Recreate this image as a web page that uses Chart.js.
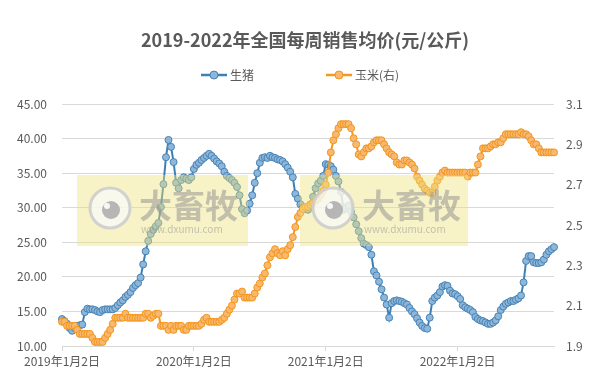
<!DOCTYPE html>
<html>
<head>
<meta charset="utf-8">
<script src="https://cdn.jsdelivr.net/npm/chart.js@4.4.1/dist/chart.umd.min.js"></script>
<style>
  body { margin: 0; background: #fff; }
  #wrap { width: 601px; height: 391px; position: relative; }
</style>
</head>
<body>
<div id="wrap"><canvas id="priceChart"></canvas></div>
<script>
// weekly prices, first week 2019-01-02
const pigPrice = [
  13.9, 13.6, 13.2, 12.6, 12.2, 12.6, 12.9, 13.0, 13.1, 14.9,
  15.4, 15.3, 15.3, 15.2, 15.0, 14.9, 15.2, 15.3, 15.3, 15.3,
  15.3, 15.5, 15.9, 16.3, 16.6, 17.1, 17.4, 17.8, 18.4, 18.8,
  19.1, 19.9, 21.8, 23.7, 25.2, 26.2, 26.8, 27.3, 27.8, 30.1,
  33.4, 37.3, 39.8, 38.8, 36.6, 33.6, 32.8, 34.0, 34.4, 34.2,
  34.0, 34.4, 35.6, 36.2, 36.5, 36.9, 37.2, 37.5, 37.8, 37.5,
  37.1, 36.7, 36.4, 36.0, 35.2, 34.6, 34.3, 34.0, 33.6, 33.0,
  31.8, 29.8, 29.2, 29.6, 30.6, 31.8, 33.6, 35.0, 36.5, 37.2,
  37.3, 37.2, 37.5, 37.3, 37.2, 37.0, 36.9, 36.7, 36.3, 35.8,
  35.2, 34.4, 32.0, 31.3, 30.5, 30.0, 29.8, 29.7, 30.5, 31.6,
  32.8, 33.5, 33.9, 34.6, 36.3, 36.2, 36.0, 35.5, 34.6, 33.8,
  32.3, 29.7, 30.0, 30.3, 29.4, 28.6, 27.6, 26.6, 25.6, 24.8,
  24.6, 24.3, 23.2, 20.8, 20.2, 19.3, 18.2, 17.0, 16.0, 14.1,
  16.2, 16.5, 16.6, 16.5, 16.4, 16.2, 16.0, 15.5, 15.0, 14.6,
  14.0, 13.4, 12.9, 12.6, 12.5, 14.1, 16.5, 17.0, 17.3, 17.8,
  18.6, 18.8, 18.7, 18.0, 17.6, 17.5, 17.2, 16.8, 15.9, 15.6,
  15.4, 15.2, 14.9, 14.2, 13.9, 13.7, 13.6, 13.4, 13.2, 13.2,
  13.4, 13.7, 14.3, 15.2, 15.7, 16.1, 16.3, 16.5, 16.5, 16.7,
  16.9, 17.3, 19.2, 22.3, 23.0, 23.0, 22.1, 22.0, 22.0, 22.1,
  22.5, 23.2, 23.7, 24.0, 24.3
];

const cornPrice = [
  2.02, 2.02, 2.00, 2.00, 2.00, 2.00, 1.98, 1.96, 1.96, 1.96,
  1.96, 1.96, 1.94, 1.92, 1.92, 1.92, 1.92, 1.94, 1.96, 1.98,
  2.01, 2.04, 2.04, 2.04, 2.04, 2.06, 2.04, 2.04, 2.04, 2.04,
  2.04, 2.04, 2.04, 2.06, 2.06, 2.04, 2.05, 2.06, 2.06, 2.00,
  2.00, 2.00, 1.98, 2.00, 1.98, 2.00, 2.00, 2.00, 1.98, 1.98,
  2.00, 2.00, 2.00, 2.00, 2.00, 2.01, 2.03, 2.04, 2.02, 2.02,
  2.02, 2.02, 2.02, 2.03, 2.04, 2.06, 2.08, 2.10, 2.13, 2.16,
  2.16, 2.17, 2.14, 2.14, 2.14, 2.14, 2.16, 2.19, 2.21, 2.24,
  2.26, 2.30, 2.34, 2.36, 2.38, 2.36, 2.35, 2.37, 2.35, 2.38,
  2.40, 2.44, 2.49, 2.54, 2.56, 2.58, 2.59, 2.59, 2.60, 2.61,
  2.62, 2.63, 2.65, 2.67, 2.70, 2.76, 2.86, 2.92, 2.95, 2.98,
  3.00, 3.00, 3.00, 3.00, 2.98, 2.93, 2.90, 2.85, 2.84, 2.86,
  2.88, 2.88, 2.89, 2.91, 2.92, 2.92, 2.92, 2.90, 2.88, 2.86,
  2.85, 2.84, 2.81, 2.80, 2.80, 2.82, 2.82, 2.81, 2.80, 2.78,
  2.74, 2.72, 2.70, 2.68, 2.67, 2.66, 2.66, 2.69, 2.72, 2.74,
  2.76, 2.77, 2.76, 2.76, 2.76, 2.76, 2.76, 2.76, 2.76, 2.76,
  2.74, 2.76, 2.76, 2.76, 2.80, 2.84, 2.88, 2.88, 2.88, 2.89,
  2.90, 2.90, 2.91, 2.91, 2.93, 2.95, 2.95, 2.95, 2.95, 2.95,
  2.95, 2.96, 2.95, 2.95, 2.94, 2.92, 2.90, 2.90, 2.88, 2.86,
  2.86, 2.86, 2.86, 2.86, 2.86
];

const yearTickIndex = [0, 52, 104, 156];
const yearTickLabels = ["2019年1月2日", "2020年1月2日", "2021年1月2日", "2022年1月2日"];
const seriesNames = ["生猪", "玉米(右)"];
const chartTitle = "2019-2022年全国每周销售均价(元/公斤)";

const FONT = '"Noto Sans CJK SC", "Noto Sans", sans-serif';
const TEXT = "#595959";
const PIG = { line: "#3D80B5", fill: "#8DB6D9", edge: "#4683B6" };
const CORN = { line: "#F7981D", fill: "#F9B870", edge: "#F39519" };

// week labels for the category axis
const start = new Date(2019, 0, 2);
const weekLabels = pigPrice.map((_, i) => {
  const d = new Date(start.getTime() + i * 7 * 86400000);
  return d.getFullYear() + "年" + (d.getMonth() + 1) + "月" + d.getDate() + "日";
});

// title, legend and the watermark boxes
const decorPlugin = {
  id: "decor",
  afterDatasetsDraw(chart) {
    const ctx = chart.ctx;
    const boxes = [{ x: 77, y: 175, w: 171, h: 71 }, { x: 300, y: 175, w: 168, h: 71 }];
    ctx.save();
    boxes.forEach(b => {
      ctx.fillStyle = "rgba(238,226,120,0.42)";
      ctx.fillRect(b.x, b.y, b.w, b.h);
      const cx = b.x + 33, cy = 208;
      ctx.beginPath();
      ctx.arc(cx, cy, 20, 0, Math.PI * 2);
      ctx.fillStyle = "rgba(250,250,250,0.75)";
      ctx.fill();
      ctx.lineWidth = 3;
      ctx.strokeStyle = "rgba(205,205,205,0.9)";
      ctx.stroke();
      ctx.beginPath();
      ctx.arc(cx + 1, cy + 2, 9, 0, Math.PI * 2);
      ctx.fillStyle = "rgba(170,170,170,0.85)";
      ctx.fill();
      ctx.beginPath();
      ctx.arc(cx - 3, cy - 2, 3, 0, Math.PI * 2);
      ctx.fillStyle = "rgba(255,255,255,0.9)";
      ctx.fill();
      ctx.fillStyle = "rgba(150,150,150,0.55)";
      ctx.font = "bold 33px " + FONT;
      ctx.textBaseline = "middle";
      ctx.textAlign = "left";
      ctx.fillText("大畜牧", b.x + 62, 205);
      ctx.font = "10px " + FONT;
      ctx.fillText("www.dxumu.com", b.x + 64, 229);
    });
    ctx.restore();
  },
  afterDraw(chart) {
    const ctx = chart.ctx;
    ctx.save();
    ctx.fillStyle = TEXT;
    ctx.textAlign = "center";
    ctx.textBaseline = "middle";
    ctx.font = "bold 18px " + FONT;
    ctx.fillText(chartTitle, 305, 40);

    const items = [
      { x: 201, c: PIG, name: seriesNames[0] },
      { x: 326, c: CORN, name: seriesNames[1] }
    ];
    items.forEach(it => {
      const y = 75;
      ctx.strokeStyle = it.c.line;
      ctx.lineWidth = 2.5;
      ctx.beginPath();
      ctx.moveTo(it.x, y);
      ctx.lineTo(it.x + 26, y);
      ctx.stroke();
      ctx.beginPath();
      ctx.arc(it.x + 13, y, 4, 0, Math.PI * 2);
      ctx.fillStyle = it.c.fill;
      ctx.fill();
      ctx.lineWidth = 1;
      ctx.strokeStyle = it.c.edge;
      ctx.stroke();
      ctx.fillStyle = TEXT;
      ctx.textAlign = "left";
      ctx.font = "12px " + FONT;
      ctx.fillText(it.name, it.x + 29, y);
    });
    ctx.restore();
  }
};

new Chart(document.getElementById("priceChart"), {
  type: "line",
  data: {
    labels: weekLabels,
    datasets: [
      {
        label: seriesNames[0],
        data: pigPrice,
        yAxisID: "y",
        order: 2,
        borderColor: PIG.line,
        borderWidth: 2,
        pointRadius: 3.5,
        pointBorderWidth: 1,
        pointBackgroundColor: PIG.fill,
        pointBorderColor: PIG.edge,
        tension: 0
      },
      {
        label: seriesNames[1],
        data: cornPrice,
        yAxisID: "y1",
        order: 1,
        borderColor: CORN.line,
        borderWidth: 2,
        pointRadius: 3.5,
        pointBorderWidth: 1,
        pointBackgroundColor: CORN.fill,
        pointBorderColor: CORN.edge,
        tension: 0
      }
    ]
  },
  options: {
    responsive: true,
    maintainAspectRatio: false,
    animation: false,
    layout: { padding: { top: 104, left: 0, right: 0, bottom: 0 } },
    plugins: {
      legend: { display: false },
      title: { display: false },
      tooltip: { enabled: false }
    },
    scales: {
      x: {
        offset: false,
        afterFit(scale) { scale.height = 45; },
        grid: { drawOnChartArea: false, drawTicks: true, tickLength: 5, color: "#D9D9D9" },
        border: { display: true, color: "#D9D9D9" },
        ticks: {
          autoSkip: false,
          maxRotation: 0,
          padding: 3,
          color: TEXT,
          font: { family: FONT, size: 12 },
          callback(value, index) {
            const k = yearTickIndex.indexOf(index);
            return k >= 0 ? yearTickLabels[k] : null;
          }
        }
      },
      y: {
        position: "left",
        min: 10,
        max: 45,
        afterFit(scale) { scale.width = 62; },
        grid: { color: "#D9D9D9", drawTicks: false },
        border: { display: false },
        ticks: {
          stepSize: 5,
          padding: 15,
          color: TEXT,
          font: { family: FONT, size: 12 },
          callback: v => v.toFixed(2)
        }
      },
      y1: {
        position: "right",
        min: 1.9,
        max: 3.1,
        afterFit(scale) { scale.width = 47; },
        grid: { drawOnChartArea: false, drawTicks: false },
        border: { display: false },
        ticks: {
          stepSize: 0.2,
          padding: 12,
          color: TEXT,
          font: { family: FONT, size: 12 },
          callback: v => v.toFixed(1)
        }
      }
    }
  },
  plugins: [decorPlugin]
});
</script>
</body>
</html>
